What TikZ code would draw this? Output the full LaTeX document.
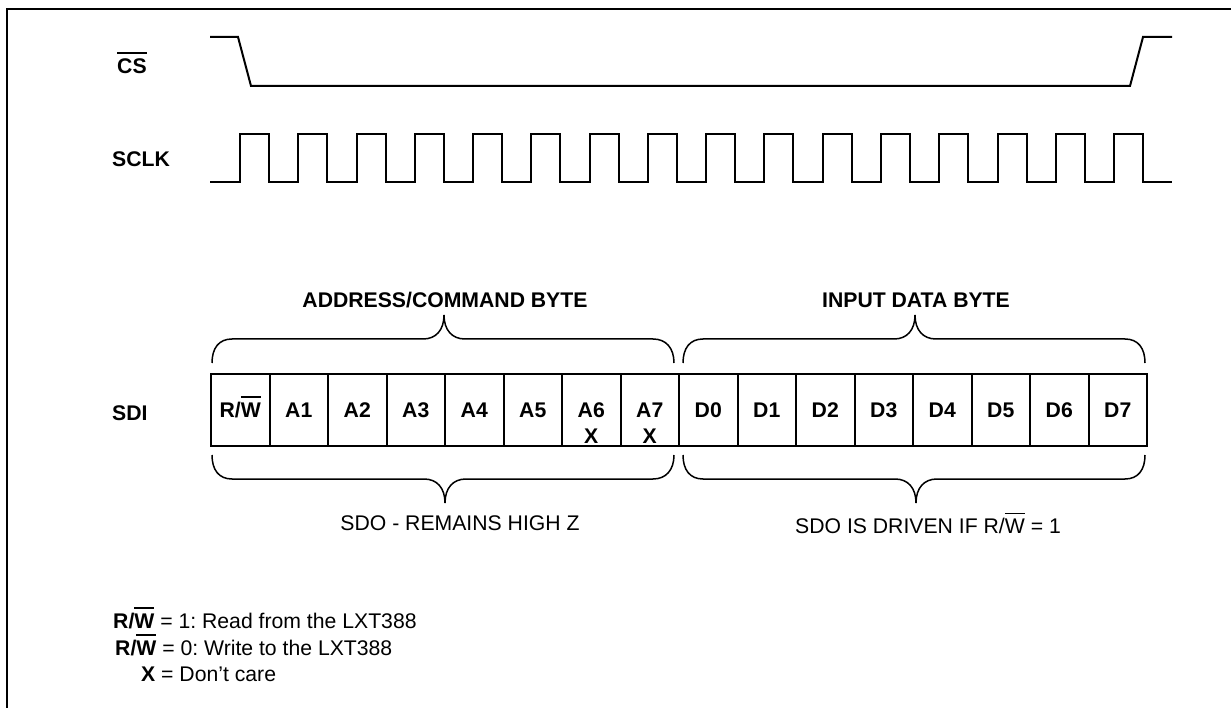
\documentclass[tikz,border=0pt]{standalone}
\usepackage{fontspec}
\setmainfont{Liberation Sans}
\frenchspacing
\newcommand\fs{\fontsize{21.2}{25}\selectfont}
\newcommand\ovbar[3]{\vbox{\hrule height #1\kern #2\hbox{#3}}}
\begin{document}
\begin{tikzpicture}[x=1pt,y=-1pt,
  wave/.style={line width=2pt},
  brc/.style={line width=1.5pt},
  bit/.style={draw, line width=2pt, minimum width=58.5pt, minimum height=72pt,
    inner sep=0pt, text height=15pt, text depth=0pt, font=\fs\bfseries},
  lbl/.style={font=\fs\bfseries, inner sep=0pt, anchor=base west},
  txt/.style={font=\fs, inner sep=0pt, anchor=base},
  btxt/.style={font=\fs\bfseries, inner sep=0pt, anchor=base}]
\useasboundingbox (0,0) rectangle (1231,708);
% frame
\draw[line width=1.8pt] (7,708) -- (7,9) -- (1231,9);
% signal labels
\node[lbl] (cs) at (117,74) {\ovbar{2pt}{5pt}{CS}};
\node[lbl] (sclk) at (112,167) {SCLK};
\node[lbl] (sdi) at (112,420) {SDI};
% CS waveform
\draw[wave] (210,37) -- (238,37) -- (251,86) -- (1130,86) -- (1143,37) -- (1172,37);
% SCLK waveform
\draw[wave] (210,182)
  \foreach \k in {0,...,15} { -- ({240+58.27*\k},182) -- ({240+58.27*\k},134)
     -- ({269+58.27*\k},134) -- ({269+58.27*\k},182) } -- (1172,182);
% SDI bit boxes
\node[bit] (b0) at (240.25,410) {R/\ovbar{1.8pt}{5pt}{W}};
\foreach \t [count=\i] in {A1,A2,A3,A4,A5,A6,A7,D0,D1,D2,D3,D4,D5,D6,D7}
  \node[bit] (b\i) at ({240.25+58.5*\i},410) {\t};
\node[btxt] (x6) at (591.25,443) {X};
\node[btxt] (x7) at (649.75,443) {X};
% top braces
\draw[brc] (212,363) .. controls (212,348) and (219,339) .. (232,339) -- (423,339)
  .. controls (436,339) and (444,330) .. (444,315)
  .. controls (444,330) and (452,339) .. (465,339) -- (653,339)
  .. controls (666,339) and (674,348) .. (674,363);
\draw[brc] (683,363) .. controls (683,348) and (690,339) .. (703,339) -- (894,339)
  .. controls (907,339) and (915,330) .. (915,315)
  .. controls (915,330) and (923,339) .. (936,339) -- (1125,339)
  .. controls (1138,339) and (1145,348) .. (1145,363);
% bottom braces
\draw[brc] (212,455) .. controls (212,470) and (219,479) .. (232,479) -- (424,479)
  .. controls (437,479) and (445,488) .. (445,503)
  .. controls (445,488) and (453,479) .. (466,479) -- (653,479)
  .. controls (666,479) and (674,470) .. (674,455);
\draw[brc] (683,455) .. controls (683,470) and (690,479) .. (703,479) -- (895,479)
  .. controls (908,479) and (916,488) .. (916,503)
  .. controls (916,488) and (924,479) .. (937,479) -- (1125,479)
  .. controls (1138,479) and (1145,470) .. (1145,455);
% headings
\node[btxt] (h1) at (445,308) {ADDRESS/COMMAND BYTE};
\node[btxt] (h2) at (916,308) {INPUT DATA BYTE};
\node[txt] (s1) at (460,530) {SDO - REMAINS HIGH Z};
\node[txt] (s2) at (928,533) {SDO IS DRIVEN IF R/\ovbar{1.2pt}{4pt}{W} = 1};
% legend
\node[txt, anchor=base west] (l1) at (113,628) {\textbf{R/\ovbar{2pt}{4pt}{W}} = 1: Read from the LXT388};
\node[txt, anchor=base west] (l2) at (115,655) {\textbf{R/\ovbar{2pt}{4pt}{W}} = 0: Write to the LXT388};
\node[txt, anchor=base west] (l3) at (141,681) {\textbf{X} = Don’t care};
\end{tikzpicture}
\end{document}
